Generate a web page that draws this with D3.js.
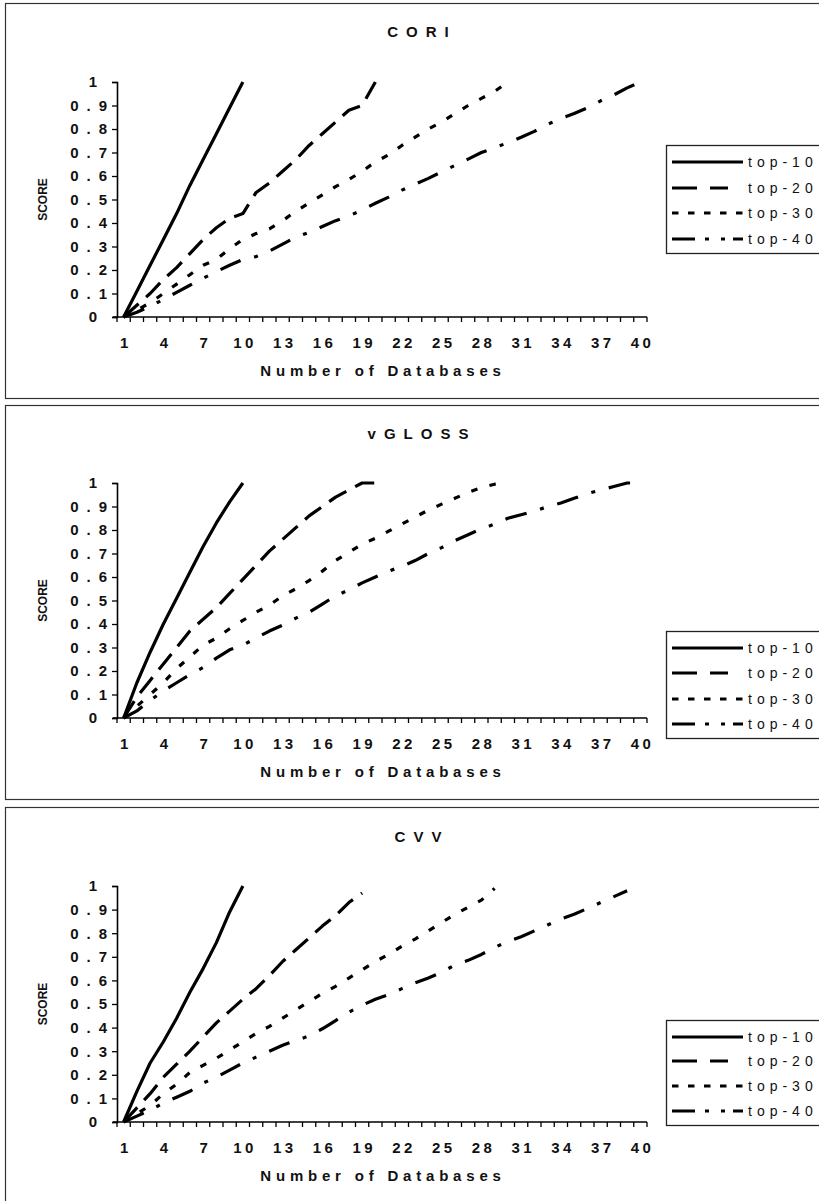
<!DOCTYPE html>
<html lang="en">
<head>
<meta charset="UTF-8">
<title>Score vs Number of Databases</title>
<script src="https://d3js.org/d3.v7.min.js"></script>
<style>
    body { margin: 0; background: #fff; }
    svg { display: block; font-family: 'Liberation Sans', Arial, sans-serif; }
    .ytick text { font-size: 15px; font-weight: bold; letter-spacing: 8px; fill: #111; }
    .xtick-label text { font-size: 15px; font-weight: bold; letter-spacing: 3.5px; fill: #111; }
    .panel-title { font-size: 15px; font-weight: bold; letter-spacing: 8px; fill: #111; }
    .axis-title { font-size: 15px; font-weight: bold; letter-spacing: 4.8px; fill: #111; }
    .score { font-size: 12px; font-weight: bold; fill: #111; }
    .legend-text { font-size: 14px; letter-spacing: 5px; fill: #111; }
</style>
</head>
<body>
<script>
    // categories and tick labels
    const databases = [1, 2, 3, 4, 5, 6, 7, 8, 9, 10, 11, 12, 13, 14, 15, 16, 17, 18, 19, 20,
        21, 22, 23, 24, 25, 26, 27, 28, 29, 30, 31, 32, 33, 34, 35, 36, 37, 38, 39, 40];
    const xTickLabels = [1, 4, 7, 10, 13, 16, 19, 22, 25, 28, 31, 34, 37, 40];
    const yTicks = [0, 0.1, 0.2, 0.3, 0.4, 0.5, 0.6, 0.7, 0.8, 0.9, 1];
    const seriesNames = ['top-10', 'top-20', 'top-30', 'top-40'];
    const panelTitles = ['CORI', 'vGLOSS', 'CVV'];

    // CORI
    const coriTop10 = [0, 0.11, 0.22, 0.33, 0.44, 0.56, 0.67, 0.78, 0.89, 1];
    const coriTop20 = [0, 0.05, 0.1, 0.16, 0.21, 0.27, 0.33, 0.38, 0.42, 0.44,
        0.53, 0.57, 0.62, 0.67, 0.73, 0.78, 0.83, 0.88, 0.9, 1];
    const coriTop30 = [0, 0.03, 0.06, 0.1, 0.14, 0.18, 0.22, 0.245, 0.29, 0.33,
        0.355, 0.375, 0.41, 0.45, 0.485, 0.52, 0.555, 0.585, 0.62, 0.66,
        0.69, 0.73, 0.765, 0.8, 0.83, 0.865, 0.9, 0.93, 0.96, 1];
    const coriTop40 = [0, 0.02, 0.045, 0.075, 0.105, 0.135, 0.165, 0.193, 0.22, 0.245,
        0.257, 0.28, 0.31, 0.34, 0.36, 0.385, 0.41, 0.43, 0.455, 0.484,
        0.51, 0.54, 0.565, 0.59, 0.618, 0.645, 0.672, 0.7, 0.72, 0.742,
        0.765, 0.79, 0.82, 0.845, 0.866, 0.89, 0.92, 0.945, 0.975, 1];

    // vGLOSS
    const vglossTop10 = [0, 0.15, 0.28, 0.4, 0.51, 0.62, 0.73, 0.83, 0.92, 1];
    const vglossTop20 = [0, 0.09, 0.16, 0.23, 0.3, 0.37, 0.42, 0.47, 0.53, 0.59,
        0.65, 0.71, 0.76, 0.81, 0.86, 0.9, 0.94, 0.97, 1, 1];
    const vglossTop30 = [0, 0.05, 0.1, 0.15, 0.21, 0.26, 0.31, 0.34, 0.38, 0.415,
        0.45, 0.48, 0.52, 0.55, 0.585, 0.625, 0.67, 0.705, 0.74, 0.765,
        0.795, 0.825, 0.855, 0.885, 0.91, 0.935, 0.96, 0.98, 0.995, 1];
    const vglossTop40 = [0, 0.03, 0.075, 0.115, 0.15, 0.185, 0.215, 0.255, 0.29, 0.31,
        0.34, 0.37, 0.395, 0.425, 0.45, 0.485, 0.52, 0.545, 0.575, 0.6,
        0.625, 0.645, 0.67, 0.7, 0.725, 0.755, 0.78, 0.805, 0.825, 0.85,
        0.865, 0.88, 0.9, 0.915, 0.935, 0.955, 0.97, 0.985, 1, 1];

    // CVV
    const cvvTop10 = [0, 0.13, 0.25, 0.34, 0.44, 0.55, 0.65, 0.76, 0.89, 1];
    const cvvTop20 = [0, 0.06, 0.12, 0.19, 0.245, 0.3, 0.36, 0.42, 0.47, 0.52,
        0.565, 0.62, 0.68, 0.73, 0.78, 0.83, 0.875, 0.93, 0.97];
    const cvvTop30 = [0, 0.035, 0.07, 0.12, 0.16, 0.21, 0.24, 0.27, 0.305, 0.34,
        0.375, 0.405, 0.44, 0.475, 0.51, 0.545, 0.575, 0.61, 0.645, 0.68,
        0.71, 0.745, 0.775, 0.81, 0.845, 0.88, 0.91, 0.94, 0.99];
    const cvvTop40 = [0, 0.025, 0.05, 0.08, 0.105, 0.13, 0.165, 0.19, 0.22, 0.25,
        0.275, 0.3, 0.325, 0.345, 0.365, 0.395, 0.43, 0.465, 0.495, 0.52,
        0.54, 0.565, 0.59, 0.61, 0.635, 0.665, 0.685, 0.71, 0.74, 0.765,
        0.785, 0.81, 0.835, 0.86, 0.88, 0.905, 0.93, 0.955, 0.98];

    const panelData = [
        [coriTop10, coriTop20, coriTop30, coriTop40],
        [vglossTop10, vglossTop20, vglossTop30, vglossTop40],
        [cvvTop10, cvvTop20, cvvTop30, cvvTop40]
    ];

    // layout for each panel (pixels)
    const layout = [
        { boxTop: 3, boxBottom: 398, titleY: 32, plotTop: 82, plotBottom: 317, legendRows: [162, 188, 213, 239] },
        { boxTop: 405, boxBottom: 799, titleY: 434, plotTop: 483, plotBottom: 718, legendRows: [648, 673, 699, 724] },
        { boxTop: 807, boxBottom: 1212, titleY: 837, plotTop: 886, plotBottom: 1122, legendRows: [1037, 1061, 1086, 1111] }
    ];

    const dashes = [null, '20,10', '6.5,12.5', '22,14,4,14'];
    const legendDashes = [null, '25,13,18,20', '6.5,9.5', '23,10,4,12,4,8'];

    const width = 819, height = 1201;
    const plotLeft = 117, plotRight = 647;

    const svg = d3.select('body').append('svg')
        .attr('width', width)
        .attr('height', height);

    const xBand = d3.scaleBand().domain(databases).range([plotLeft, plotRight]);
    const x = d3.scalePoint().domain(databases).range([plotLeft, plotRight]).padding(0.5);

    panelData.forEach((series, p) => {
        const L = layout[p];
        const g = svg.append('g');

        // panel frame
        g.append('rect')
            .attr('x', 5.5).attr('y', L.boxTop + 0.5)
            .attr('width', 830).attr('height', L.boxBottom - L.boxTop)
            .attr('fill', 'none').attr('stroke', '#333').attr('stroke-width', 1.2);

        g.append('text').attr('class', 'panel-title')
            .attr('x', 422).attr('y', L.titleY).attr('dy', '0.35em')
            .attr('text-anchor', 'middle').text(panelTitles[p]);

        const y = d3.scaleLinear().domain([0, 1]).range([L.plotBottom, L.plotTop]);

        // y axis
        const yAxis = g.append('g')
            .attr('class', 'ytick')
            .attr('transform', `translate(${plotLeft},0)`)
            .call(d3.axisLeft(y).tickValues(yTicks).tickSize(5)
                .tickFormat(d => d === 0 ? '0' : d === 1 ? '1' : d3.format('.1f')(d)));
        yAxis.select('.domain').attr('stroke-width', 1.6);
        yAxis.selectAll('.tick line').attr('stroke-width', 1.3);
        yAxis.selectAll('.tick text').attr('x', d => (d === 0 || d === 1) ? -12 : -2);

        // x axis: ticks between categories, labels on every third category
        const xAxis = g.append('g')
            .attr('class', 'xtick-label')
            .attr('transform', `translate(0,${L.plotBottom})`)
            .call(d3.axisBottom(x).tickValues(xTickLabels).tickSize(0).tickPadding(0));
        xAxis.select('.domain').remove();
        xAxis.selectAll('.tick text').attr('y', 26).attr('dy', '0.35em').attr('dx', 1.75);
        g.append('line')
            .attr('x1', plotLeft - 4).attr('x2', plotRight)
            .attr('y1', L.plotBottom).attr('y2', L.plotBottom)
            .attr('stroke', '#000').attr('stroke-width', 1.6);
        g.selectAll('.xtick')
            .data(databases.concat(['end']))
            .join('line')
            .attr('x1', d => d === 'end' ? plotRight : xBand(d))
            .attr('x2', d => d === 'end' ? plotRight : xBand(d))
            .attr('y1', L.plotBottom).attr('y2', L.plotBottom + 5)
            .attr('stroke', '#000').attr('stroke-width', 1.3);

        g.append('text').attr('class', 'axis-title')
            .attr('x', 383).attr('y', L.plotBottom + 54).attr('dy', '0.35em')
            .attr('text-anchor', 'middle').text('Number of Databases');

        g.append('text').attr('class', 'score')
            .attr('transform', `translate(43,${(L.plotTop + L.plotBottom) / 2}) rotate(-90)`)
            .attr('dy', '0.35em').attr('text-anchor', 'middle').text('SCORE');

        // series lines
        const line = d3.line()
            .x((d, i) => x(databases[i]))
            .y(d => y(d));
        series.forEach((values, s) => {
            g.append('path')
                .datum(values)
                .attr('d', line)
                .attr('fill', 'none')
                .attr('stroke', '#000')
                .attr('stroke-width', 3.2)
                .attr('stroke-linejoin', 'round')
                .attr('stroke-dasharray', dashes[s]);
        });

        // legend
        const rows = L.legendRows;
        g.append('rect')
            .attr('x', 666.5).attr('y', rows[0] - 16.5)
            .attr('width', 170).attr('height', rows[3] - rows[0] + 31)
            .attr('fill', '#fff').attr('stroke', '#222').attr('stroke-width', 1.3);
        seriesNames.forEach((name, s) => {
            g.append('line')
                .attr('x1', 672).attr('x2', 743)
                .attr('y1', rows[s]).attr('y2', rows[s])
                .attr('stroke', '#000').attr('stroke-width', 3.2)
                .attr('stroke-dasharray', legendDashes[s]);
            g.append('text').attr('class', 'legend-text')
                .attr('x', 748).attr('y', rows[s]).attr('dy', '0.35em')
                .text(name);
        });
    });
</script>
</body>
</html>
